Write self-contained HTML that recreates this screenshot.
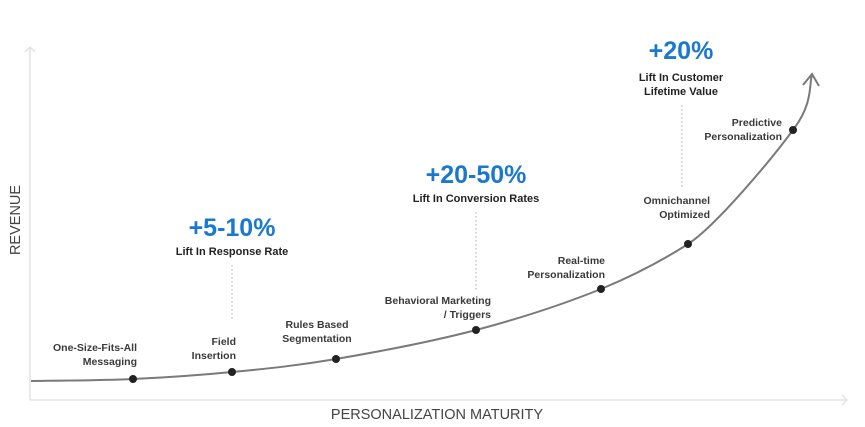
<!DOCTYPE html>
<html><head><meta charset="utf-8"><style>
html,body{margin:0;padding:0;background:#fff;}
svg{display:block;}
.l{font-family:"Liberation Sans",sans-serif;font-size:10.5px;font-weight:bold;fill:#3a3a3a;}
.h{font-family:"Liberation Sans",sans-serif;font-size:25px;font-weight:bold;fill:#1a78cf;}
.s{font-family:"Liberation Sans",sans-serif;font-size:11px;font-weight:bold;fill:#222;}
.a{font-family:"Liberation Sans",sans-serif;font-size:14.5px;fill:#444;}
</style></head><body>
<svg width="865" height="427" viewBox="0 0 865 427">
<g stroke="#e3e3e3" stroke-width="1.5" fill="none">
<line x1="30" y1="47" x2="30" y2="400"/>
<polyline points="25,52 30,47 35,52"/>
<line x1="30" y1="400" x2="847" y2="400"/>
<polyline points="842,395 847,400 842,405"/>
</g>
<g stroke="#bbb" stroke-width="1.2" stroke-dasharray="1.5,2.5">
<line x1="232" y1="265" x2="232" y2="320"/>
<line x1="476" y1="212" x2="476" y2="290"/>
<line x1="682" y1="105" x2="682" y2="187"/>
</g>
<path d="M31,381 C48,380.7 99.5,380.5 133,379 C166.5,377.5 198.2,375.3 232,372 C265.8,368.7 295.3,366 336,359 C376.7,352 431.8,341.7 476,330 C520.2,318.3 565.7,303.3 601,289 C630,277 660,262 688,244 C716,226 772.3,158.2 793,130 C813.7,102.8 808.8,84.2 812,75" fill="none" stroke="#7a7a7a" stroke-width="2"/>
<polyline points="803,85 812,74 819,86" fill="none" stroke="#7a7a7a" stroke-width="2"/>
<g fill="#222">
<circle cx="133" cy="379" r="4"/><circle cx="232" cy="372" r="4"/><circle cx="336" cy="359" r="4"/>
<circle cx="476" cy="330" r="4"/><circle cx="601" cy="289" r="4"/><circle cx="688" cy="244" r="4"/>
<circle cx="793" cy="130" r="4"/>
</g>
<g class="l" text-anchor="end">
<text x="137" y="351">One-Size-Fits-All</text><text x="137" y="365">Messaging</text>
<text x="236" y="345">Field</text><text x="236" y="359">Insertion</text>
<text x="491" y="304">Behavioral Marketing</text><text x="491" y="318">/ Triggers</text>
<text x="605" y="264">Real-time</text><text x="605" y="278">Personalization</text>
<text x="710" y="204">Omnichannel</text><text x="710" y="218">Optimized</text>
<text x="782" y="126">Predictive</text><text x="782" y="140">Personalization</text>
</g>
<g class="l" text-anchor="middle">
<text x="317" y="328">Rules Based</text><text x="317" y="342">Segmentation</text>
</g>
<g text-anchor="middle">
<text class="h" x="232" y="236">+5-10%</text>
<text class="s" x="232" y="255">Lift In Response Rate</text>
<text class="h" x="476" y="183">+20-50%</text>
<text class="s" x="476" y="202">Lift In Conversion Rates</text>
<text class="h" x="681" y="59">+20%</text>
<text class="s" x="681" y="81">Lift In Customer</text>
<text class="s" x="681" y="95">Lifetime Value</text>
<text class="a" x="437" y="419">PERSONALIZATION MATURITY</text>
<text class="a" transform="translate(20,220) rotate(-90)">REVENUE</text>
</g>
</svg>
</body></html>
